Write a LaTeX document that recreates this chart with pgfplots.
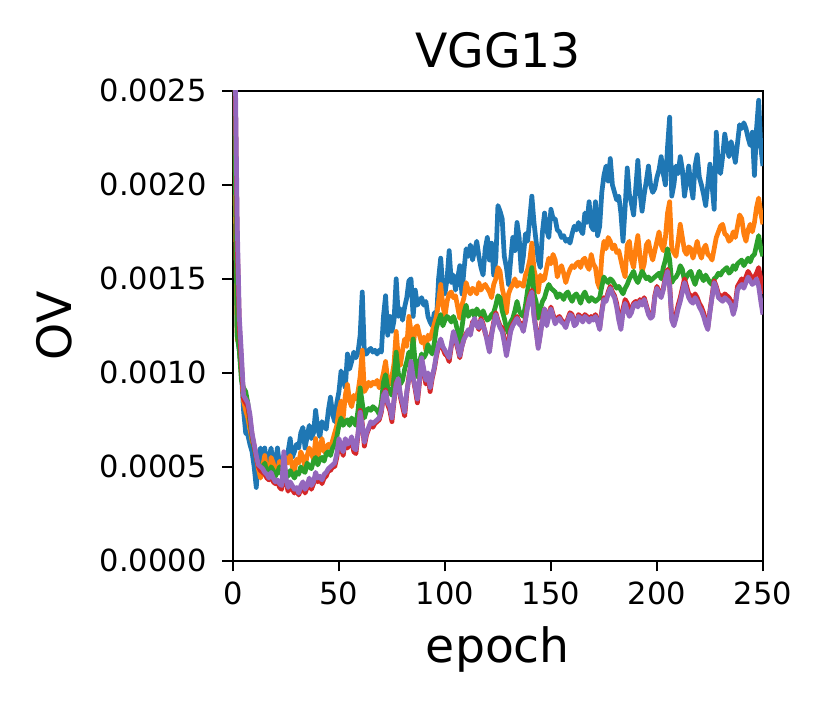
\documentclass[border=0pt]{standalone}
\usepackage{fontspec}
\setmainfont{DejaVu Sans}
\usepackage{pgfplots}
\usepackage{pgfplotstable}
\pgfplotsset{compat=1.18}
\definecolor{c0}{HTML}{1F77B4}
\definecolor{c1}{HTML}{FF7F0E}
\definecolor{c2}{HTML}{2CA02C}
\definecolor{c3}{HTML}{D62728}
\definecolor{c4}{HTML}{9467BD}
% values in units of 1e-3
\pgfplotstableread{
e B O G R P
0 3.20 3.00 3.00 3.40 3.50
1 2.40 2.00 2.20 2.60 2.70
2 1.20 1.18 1.20 1.70 1.80
3 1.12 1.15 1.12 1.25 1.30
4 1.00 1.00 0.96 1.05 1.10
5 0.80 0.85 0.92 0.86 0.88
6 0.68 0.80 0.90 0.84 0.86
7 0.67 0.76 0.84 0.82 0.84
8 0.62 0.70 0.74 0.76 0.78
9 0.58 0.64 0.66 0.67 0.68
10 0.50 0.61 0.60 0.61 0.62
11 0.39 0.55 0.55 0.55 0.56
12 0.55 0.49 0.52 0.50 0.51
13 0.60 0.44 0.50 0.48 0.50
14 0.52 0.50 0.48 0.47 0.49
15 0.60 0.56 0.52 0.46 0.47
16 0.49 0.46 0.47 0.44 0.46
17 0.55 0.44 0.46 0.43 0.44
18 0.60 0.55 0.50 0.46 0.47
19 0.50 0.52 0.48 0.42 0.44
20 0.53 0.46 0.45 0.41 0.42
21 0.60 0.48 0.47 0.42 0.43
22 0.50 0.53 0.50 0.39 0.41
23 0.54 0.47 0.46 0.38 0.40
24 0.56 0.50 0.49 0.55 0.58
25 0.52 0.55 0.47 0.42 0.44
26 0.58 0.52 0.45 0.37 0.39
27 0.65 0.56 0.48 0.40 0.42
28 0.55 0.50 0.46 0.38 0.40
29 0.58 0.48 0.44 0.36 0.38
30 0.62 0.54 0.47 0.38 0.39
31 0.60 0.52 0.46 0.35 0.36
32 0.68 0.58 0.50 0.38 0.40
33 0.71 0.55 0.48 0.41 0.42
34 0.60 0.50 0.47 0.36 0.38
35 0.66 0.56 0.52 0.39 0.40
36 0.72 0.60 0.50 0.42 0.44
37 0.65 0.57 0.49 0.38 0.40
38 0.68 0.54 0.53 0.41 0.42
39 0.80 0.65 0.55 0.45 0.47
40 0.70 0.55 0.51 0.42 0.44
41 0.66 0.60 0.54 0.44 0.45
42 0.74 0.65 0.55 0.41 0.43
43 0.72 0.58 0.53 0.44 0.46
44 0.70 0.60 0.57 0.45 0.47
45 0.80 0.62 0.58 0.48 0.49
46 0.87 0.60 0.56 0.48 0.50
47 0.78 0.64 0.60 0.50 0.51
48 0.74 0.68 0.62 0.50 0.52
49 0.84 0.72 0.66 0.55 0.57
50 0.90 0.80 0.72 0.63 0.65
51 1.01 0.85 0.76 0.60 0.61
52 0.96 0.76 0.72 0.56 0.58
53 0.92 0.88 0.74 0.64 0.65
54 1.10 0.94 0.75 0.60 0.62
55 1.02 0.85 0.72 0.62 0.63
56 1.06 0.82 0.76 0.64 0.66
57 1.11 0.88 0.74 0.58 0.60
58 1.08 0.86 0.72 0.57 0.59
59 1.11 0.90 0.80 0.67 0.68
60 1.20 0.98 0.92 0.80 0.79
61 1.43 1.12 0.84 0.73 0.72
62 1.10 0.90 0.76 0.61 0.63
63 1.10 0.92 0.80 0.67 0.68
64 1.12 0.95 0.81 0.70 0.71
65 1.13 0.93 0.80 0.73 0.74
66 1.11 0.95 0.82 0.71 0.73
67 1.12 0.94 0.81 0.73 0.74
68 1.10 0.96 0.80 0.74 0.75
69 1.12 0.92 0.78 0.75 0.76
70 1.11 0.95 0.84 0.79 0.80
71 1.30 1.00 0.95 0.88 0.88
72 1.41 1.06 0.99 0.91 0.90
73 1.20 0.96 0.92 0.83 0.84
74 1.30 0.94 0.90 0.80 0.82
75 1.22 0.98 0.88 0.74 0.76
76 1.28 1.05 0.98 0.85 0.86
77 1.50 1.22 1.11 0.95 0.94
78 1.30 1.08 1.00 0.96 0.97
79 1.34 1.04 0.94 0.87 0.88
80 1.28 1.12 0.96 0.82 0.84
81 1.35 1.18 1.02 0.77 0.79
82 1.40 1.14 1.06 0.89 0.90
83 1.49 1.30 1.11 0.98 0.97
84 1.50 1.22 1.08 1.05 1.06
85 1.30 1.14 1.18 0.97 0.98
86 1.44 1.24 1.05 0.91 0.92
87 1.36 1.25 0.98 0.84 0.86
88 1.38 1.20 1.06 0.95 0.96
89 1.40 1.16 1.10 1.07 1.08
90 1.36 1.19 1.08 1.01 1.02
91 1.38 1.12 1.10 0.94 0.96
92 1.30 1.20 1.15 0.99 1.00
93 1.27 1.18 1.12 0.90 0.92
94 1.25 1.22 1.10 0.97 0.98
95 1.32 1.26 1.16 1.02 1.03
96 1.28 1.30 1.24 1.09 1.10
97 1.50 1.38 1.28 1.14 1.15
98 1.61 1.47 1.31 1.17 1.18
99 1.45 1.36 1.25 1.13 1.14
100 1.42 1.30 1.28 1.10 1.12
101 1.50 1.38 1.30 1.09 1.10
102 1.65 1.42 1.29 1.06 1.08
103 1.48 1.43 1.27 1.14 1.15
104 1.52 1.40 1.30 1.21 1.22
105 1.44 1.41 1.27 1.17 1.18
106 1.50 1.35 1.22 1.13 1.14
107 1.57 1.29 1.16 1.08 1.09
108 1.42 1.36 1.24 1.14 1.14
109 1.55 1.40 1.32 1.18 1.18
110 1.66 1.48 1.36 1.21 1.20
111 1.62 1.44 1.30 1.22 1.23
112 1.68 1.42 1.32 1.21 1.20
113 1.60 1.45 1.33 1.27 1.26
114 1.65 1.44 1.30 1.28 1.29
115 1.70 1.42 1.34 1.26 1.25
116 1.62 1.48 1.32 1.23 1.24
117 1.56 1.44 1.30 1.29 1.28
118 1.52 1.46 1.33 1.26 1.25
119 1.66 1.47 1.30 1.21 1.22
120 1.72 1.45 1.28 1.18 1.16
121 1.60 1.43 1.29 1.12 1.11
122 1.69 1.40 1.31 1.21 1.20
123 1.52 1.47 1.32 1.27 1.26
124 1.60 1.50 1.36 1.32 1.31
125 1.89 1.56 1.41 1.28 1.27
126 1.86 1.54 1.40 1.25 1.24
127 1.82 1.45 1.33 1.24 1.22
128 1.62 1.40 1.29 1.18 1.16
129 1.56 1.32 1.24 1.12 1.09
130 1.47 1.42 1.21 1.17 1.15
131 1.60 1.45 1.27 1.23 1.22
132 1.72 1.47 1.29 1.26 1.25
133 1.65 1.50 1.33 1.28 1.27
134 1.80 1.46 1.38 1.30 1.29
135 1.72 1.48 1.33 1.27 1.26
136 1.54 1.47 1.31 1.26 1.25
137 1.62 1.46 1.30 1.24 1.22
138 1.74 1.52 1.36 1.29 1.28
139 1.70 1.55 1.44 1.36 1.35
140 1.82 1.60 1.50 1.41 1.40
141 1.94 1.69 1.56 1.44 1.43
142 1.80 1.55 1.42 1.31 1.30
143 1.70 1.50 1.38 1.23 1.22
144 1.60 1.43 1.29 1.14 1.13
145 1.56 1.52 1.34 1.21 1.20
146 1.75 1.49 1.38 1.29 1.28
147 1.85 1.50 1.40 1.34 1.34
148 1.76 1.56 1.44 1.27 1.25
149 1.72 1.61 1.47 1.31 1.30
150 1.87 1.58 1.45 1.35 1.34
151 1.82 1.63 1.44 1.31 1.30
152 1.82 1.60 1.43 1.28 1.26
153 1.76 1.51 1.40 1.29 1.28
154 1.75 1.55 1.42 1.30 1.29
155 1.72 1.57 1.41 1.28 1.27
156 1.73 1.53 1.39 1.27 1.26
157 1.70 1.48 1.42 1.25 1.24
158 1.71 1.52 1.43 1.29 1.28
159 1.69 1.55 1.40 1.32 1.31
160 1.74 1.57 1.38 1.31 1.30
161 1.78 1.56 1.41 1.26 1.25
162 1.76 1.58 1.42 1.27 1.26
163 1.80 1.59 1.40 1.31 1.30
164 1.76 1.56 1.37 1.30 1.29
165 1.74 1.60 1.41 1.28 1.27
166 1.85 1.61 1.43 1.31 1.30
167 1.80 1.57 1.40 1.30 1.29
168 1.91 1.55 1.38 1.28 1.27
169 1.78 1.63 1.40 1.30 1.29
170 1.76 1.58 1.39 1.29 1.28
171 1.91 1.56 1.38 1.31 1.30
172 1.73 1.48 1.39 1.28 1.27
173 1.78 1.45 1.40 1.24 1.23
174 1.96 1.62 1.46 1.33 1.32
175 2.05 1.70 1.51 1.40 1.39
176 2.10 1.66 1.49 1.39 1.38
177 2.02 1.72 1.48 1.43 1.42
178 2.14 1.70 1.50 1.46 1.45
179 2.00 1.66 1.49 1.43 1.42
180 1.96 1.68 1.47 1.41 1.40
181 1.92 1.64 1.45 1.37 1.35
182 1.94 1.65 1.46 1.30 1.28
183 1.85 1.60 1.44 1.25 1.23
184 1.70 1.55 1.42 1.34 1.32
185 1.88 1.51 1.45 1.39 1.37
186 2.09 1.68 1.47 1.37 1.33
187 1.95 1.70 1.50 1.33 1.30
188 1.90 1.60 1.52 1.34 1.32
189 1.84 1.56 1.54 1.37 1.36
190 1.98 1.66 1.50 1.38 1.37
191 2.13 1.73 1.48 1.36 1.35
192 1.96 1.62 1.51 1.39 1.38
193 1.86 1.54 1.54 1.37 1.36
194 1.95 1.58 1.52 1.40 1.39
195 2.02 1.68 1.50 1.36 1.35
196 2.10 1.70 1.51 1.32 1.31
197 2.00 1.64 1.49 1.30 1.29
198 1.96 1.60 1.50 1.31 1.30
199 1.98 1.65 1.51 1.41 1.40
200 2.04 1.70 1.52 1.46 1.45
201 2.08 1.75 1.53 1.43 1.42
202 2.15 1.68 1.50 1.41 1.40
203 2.06 1.65 1.56 1.45 1.44
204 2.00 1.72 1.60 1.51 1.50
205 2.20 1.85 1.66 1.55 1.54
206 2.36 1.91 1.60 1.47 1.46
207 1.94 1.66 1.48 1.29 1.28
208 2.00 1.64 1.50 1.27 1.25
209 2.10 1.62 1.51 1.31 1.29
210 2.06 1.70 1.53 1.36 1.34
211 2.15 1.79 1.57 1.40 1.38
212 2.08 1.72 1.55 1.45 1.43
213 1.94 1.65 1.49 1.50 1.48
214 2.02 1.63 1.51 1.46 1.44
215 2.10 1.67 1.53 1.42 1.40
216 2.00 1.66 1.54 1.41 1.38
217 1.93 1.61 1.50 1.40 1.37
218 2.10 1.65 1.47 1.42 1.40
219 2.16 1.70 1.51 1.40 1.38
220 2.04 1.64 1.54 1.37 1.35
221 2.00 1.61 1.51 1.35 1.33
222 1.95 1.66 1.49 1.32 1.30
223 1.89 1.68 1.52 1.28 1.26
224 2.00 1.63 1.50 1.24 1.23
225 2.11 1.62 1.48 1.33 1.32
226 2.00 1.60 1.47 1.41 1.40
227 1.87 1.66 1.50 1.49 1.48
228 2.28 1.72 1.51 1.46 1.45
229 2.10 1.75 1.53 1.42 1.40
230 2.06 1.78 1.52 1.41 1.39
231 2.15 1.79 1.54 1.40 1.38
232 2.27 1.74 1.55 1.42 1.40
233 2.20 1.73 1.56 1.41 1.39
234 2.15 1.70 1.53 1.40 1.38
235 2.23 1.71 1.54 1.38 1.36
236 2.18 1.75 1.57 1.33 1.31
237 2.12 1.72 1.55 1.37 1.35
238 2.22 1.78 1.58 1.46 1.44
239 2.32 1.84 1.59 1.48 1.46
240 2.30 1.82 1.60 1.50 1.47
241 2.33 1.74 1.57 1.48 1.45
242 2.30 1.70 1.59 1.51 1.48
243 2.25 1.76 1.61 1.54 1.51
244 2.21 1.79 1.59 1.52 1.49
245 2.28 1.75 1.62 1.50 1.47
246 2.05 1.80 1.63 1.51 1.48
247 2.30 1.88 1.68 1.53 1.50
248 2.45 1.93 1.73 1.56 1.46
249 2.20 1.85 1.66 1.50 1.38
250 2.10 1.79 1.62 1.42 1.31
}\data

\begin{document}
\begin{tikzpicture}
\begin{axis}[
  scale only axis,
  width=173.8pt, height=154.1pt,
  xmin=0, xmax=250, ymin=0, ymax=2.5,
  xtick={0,50,100,150,200,250},
  ytick={0,0.5,1,1.5,2,2.5},
  yticklabels={0.0000,0.0005,0.0010,0.0015,0.0020,0.0025},
  tick align=outside, tick pos=left,
  major tick length=3.5pt,
  axis line style={line width=0.8pt},
  every tick/.style={line width=0.8pt, black},
  tick label style={font=\fontsize{10}{12}\selectfont},
  yticklabel style={inner xsep=5pt},
  label style={font=\fontsize{15.5}{18}\selectfont},
  ylabel style={at={(axis description cs:-0.302,0.5)}, anchor=south, inner sep=0pt},
  title style={font=\fontsize{15.5}{18}\selectfont, yshift=-2pt},
  title={VGG13},
  xlabel={epoch},
  ylabel={OV},
  /pgf/number format/assume math mode=true,
  every axis plot/.append style={line width=1.55pt, line join=round, mark=none},
]
\addplot[c0] table[x=e, y=B] {\data};
\addplot[c1] table[x=e, y=O] {\data};
\addplot[c2] table[x=e, y=G] {\data};
\addplot[c3] table[x=e, y=R] {\data};
\addplot[c4] table[x=e, y=P] {\data};
\end{axis}
\pgfresetboundingbox
\path[use as bounding box] ([shift={(-76.4pt,-49.5pt)}]current axis.south west) rectangle ([shift={(22pt,29.8pt)}]current axis.north east);
\end{tikzpicture}
\end{document}
